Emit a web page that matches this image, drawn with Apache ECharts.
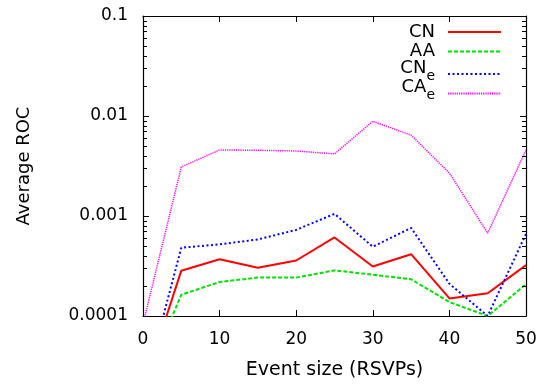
<!DOCTYPE html>
<html>
<head>
<meta charset="utf-8">
<script src="https://cdn.jsdelivr.net/npm/echarts@6/dist/echarts.min.js"></script>
<style>html,body{margin:0;padding:0;background:#fff}#c{width:550px;height:385px}</style>
</head>
<body>
<div id="c"></div>
<script>
// ---- data ----
const eventSize = [0, 5, 10, 15, 20, 25, 30, 35, 40, 45, 50];
const CN  = [1.9e-5, 2.84e-4, 3.70e-4, 3.04e-4, 3.59e-4, 6.1e-4, 3.13e-4, 4.15e-4, 1.50e-4, 1.69e-4, 3.23e-4];
const AA  = [2.0e-5, 1.63e-4, 2.19e-4, 2.42e-4, 2.42e-4, 2.86e-4, 2.59e-4, 2.33e-4, 1.38e-4, 1.0e-4, 2.08e-4];
const CNe = [1.7e-5, 4.82e-4, 5.2e-4, 5.83e-4, 7.26e-4, 1.05e-3, 4.93e-4, 7.6e-4, 2.1e-4, 1.0e-4, 6.62e-4];
const CAe = [8.3e-5, 3.09e-3, 4.58e-3, 4.54e-3, 4.47e-3, 4.18e-3, 8.85e-3, 6.44e-3, 2.69e-3, 6.73e-4, 4.58e-3];
const seriesNames = ['CN', 'AA', 'CNe', 'CAe'];
const yTickLabels = ['0.0001', '0.001', '0.01', '0.1'];
const xTickLabels = ['0', '10', '20', '30', '40', '50'];
const minorTicks = [2e-4,3e-4,4e-4,5e-4,6e-4,7e-4,8e-4,9e-4,
                    2e-3,3e-3,4e-3,5e-3,6e-3,7e-3,8e-3,9e-3,
                    2e-2,3e-2,4e-2,5e-2,6e-2,7e-2,8e-2,9e-2];

const FONT = 'DejaVu Sans';
const pair = arr => eventSize.map((x, i) => [x, arr[i]]);

const chart = echarts.init(document.getElementById('c'), null, {renderer: 'canvas'});
const yFmt = v => yTickLabels[Math.round(Math.log10(v)) + 4] || '';
const xFmt = v => xTickLabels[Math.round(v / 10)] || '';

const axisLineStyle = {color: '#000', width: 1.2};
const baseX = {type: 'value', min: 0, max: 50, interval: 10,
  axisLine: {show: true, onZero: false, lineStyle: axisLineStyle},
  axisTick: {show: true, inside: true, length: 6, lineStyle: {color: '#000'}},
  splitLine: {show: false}};
const baseY = {type: 'log', logBase: 10, min: 0.0001, max: 0.1,
  axisLine: {show: true, onZero: false, lineStyle: axisLineStyle},
  axisTick: {show: true, inside: true, length: 6, lineStyle: {color: '#000'}},
  splitLine: {show: false}, minorTick: {show: false}};

const legendNames = {CN: '{p|CN}', AA: '{p|AA}', CNe: '{m|CN}{s|e}', CAe: '{m|CA}{s|e}'};

chart.setOption({
  animation: false,
  backgroundColor: '#fff',
  grid: {left: 143, right: 24, top: 16, bottom: 65},
  legend: {
    orient: 'vertical', right: 43, top: 15, align: 'right',
    itemWidth: 53, itemHeight: 14, itemGap: -4.5,
    data: seriesNames,
    itemStyle: {opacity: 0},
    formatter: n => legendNames[n],
    textStyle: {fontFamily: FONT, fontSize: 18, color: '#000',
      rich: {
        p: {fontFamily: FONT, fontSize: 18, lineHeight: 18, padding: [3, 8, 3, 0], color: '#000'},
        m: {fontFamily: FONT, fontSize: 18, lineHeight: 18, padding: [0, 0, 6, 0], verticalAlign: 'bottom', color: '#000'},
        s: {fontFamily: FONT, fontSize: 14, lineHeight: 14, padding: [0, 8, 0, 0], verticalAlign: 'bottom', color: '#000'}
      }}
  },
  xAxis: [
    Object.assign({}, baseX, {position: 'bottom', name: 'Event size (RSVPs)', nameLocation: 'middle', nameGap: 45,
      nameTextStyle: {fontFamily: FONT, fontSize: 19, color: '#000'},
      axisLabel: {fontFamily: FONT, fontSize: 17, color: '#000', margin: 15, formatter: xFmt}}),
    Object.assign({}, baseX, {position: 'top', axisLabel: {show: false}})
  ],
  yAxis: [
    Object.assign({}, baseY, {position: 'left', name: 'Average ROC', nameLocation: 'middle', nameGap: 110,
      nameTextStyle: {fontFamily: FONT, fontSize: 18, color: '#000'},
      axisLabel: {fontFamily: FONT, fontSize: 17, color: '#000', margin: 15, formatter: yFmt}}),
    Object.assign({}, baseY, {position: 'right', axisLabel: {show: false}})
  ],
  series: [
    {name: 'CN', type: 'line', data: pair(CN), symbol: 'none', showSymbol: false, clip: true,
     color: '#ff0000', lineStyle: {color: '#ff0000', width: 2, type: 'solid'}},
    {name: 'AA', type: 'line', data: pair(AA), symbol: 'none', showSymbol: false, clip: true,
     color: '#00e000', lineStyle: {color: '#00e000', width: 2, type: [4, 2]}},
    {name: 'CNe', type: 'line', data: pair(CNe), symbol: 'none', showSymbol: false, clip: true,
     color: '#0000ff', lineStyle: {color: '#0000ff', width: 2, type: [2, 2.5]}},
    {name: 'CAe', type: 'line', data: pair(CAe), symbol: 'none', showSymbol: false, clip: true,
     color: '#ff00ff', lineStyle: {color: '#ff00ff', width: 1.5, type: [1.2, 1]}},
    {name: 'minorTicks', type: 'custom', silent: true, clip: false, z: 10,
     data: minorTicks.map(v => [0, v]), encode: {x: 0, y: 1},
     renderItem: (params, api) => {
       const y = Math.round(api.coord([api.value(0), api.value(1)])[1]) + 0.5;
       const cs = params.coordSys;
       const st = {stroke: '#000', lineWidth: 1};
       return {type: 'group', children: [
         {type: 'line', shape: {x1: cs.x, y1: y, x2: cs.x + 4, y2: y}, style: st},
         {type: 'line', shape: {x1: cs.x + cs.width - 4, y1: y, x2: cs.x + cs.width, y2: y}, style: st}
       ]};
     }}
  ]
});
</script>
</body>
</html>
